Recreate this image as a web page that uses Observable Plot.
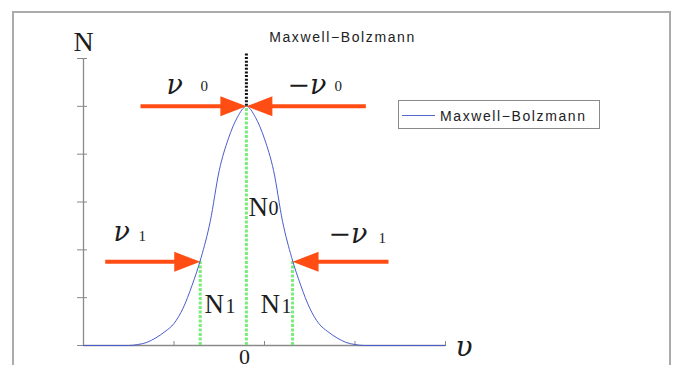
<!DOCTYPE html>
<html>
<head>
<meta charset="utf-8">
<script src="https://cdn.jsdelivr.net/npm/d3@7"></script>
<script src="https://cdn.jsdelivr.net/npm/@observablehq/plot@0.6"></script>
<style>
  html, body { margin: 0; padding: 0; background: #fff; }
  #wrap { position: relative; width: 673px; height: 365px; overflow: hidden; }
  #chart { position: absolute; left: 0; top: 0; }
  #border { position: absolute; left: 12px; top: 11px; width: 659px; height: 420px;
            border: 2px solid #ababab; box-sizing: border-box; pointer-events: none; }
  #legend { position: absolute; left: 398px; top: 100px; }
</style>
</head>
<body>
<div id="wrap">
  <div id="chart"></div>
  <div id="border"></div>
  <svg id="legend" width="202" height="29">
    <rect x="0.5" y="0.5" width="201" height="28" fill="#fff" stroke="#8a8a8a"></rect>
    <line x1="4" x2="37" y1="15.5" y2="15.5" stroke="#5566cc" stroke-width="1"></line>
    <text x="42" y="21" font-family="'Liberation Sans', Arial, sans-serif" font-size="14"
          letter-spacing="1.6" fill="#222">Maxwell−Bolzmann</text>
  </svg>
</div>
<script>
// Maxwell–Boltzmann distribution: particle count N against velocity
const velocity = [-180, -130, -120, -110, -100, -90, -80, -70, -60, -50, -40, -30, -20, -10, 0,
                  10, 20, 30, 40, 50, 60, 70, 80, 90, 100, 110, 120, 130, 220];
const count = [0, 0, 0.02, 0.065, 0.16, 0.29, 0.46, 0.78, 1.26, 1.84, 2.59, 3.66, 4.32, 4.77, 5,
               4.77, 4.32, 3.66, 2.59, 1.84, 1.26, 0.78, 0.46, 0.29, 0.16, 0.065, 0.02, 0, 0];
const xTicks = [-180, -80, 20, 120, 220];
const yTicks = [0, 1, 2, 3, 4, 5, 6];

// marked velocities and their counts
const v0 = 0, v1 = 51;
const N0 = 5, N1 = 1.75;

// annotation arrows: tail velocity, target velocity, count level
const arrowFrom = [-117, 132, -156, 157];
const arrowTo = [v0, v0, -v1, v1];
const arrowAt = [N0, N0, N1, N1];

const title = "Maxwell−Bolzmann";

const margin = {left: 83, right: 228, top: 58, bottom: 20};
const red = "#ff4d14";
const green = "#78ee78";
const blue = "#4a5ccc";
const ink = "#1c1c1c";

const curve = velocity.map((v, i) => ({v, n: count[i]}));
const arrows = arrowFrom.map((from, i) => ({
  from, to: arrowTo[i], at: arrowAt[i], dir: Math.sign(arrowTo[i] - from)
}));
const drops = [{x: -v1, h: N1}, {x: v0, h: N0}, {x: v1, h: N1}];

const serif = "'Liberation Serif', 'DejaVu Serif', serif";
const greek = "'DejaVu Serif', serif";
const sans = "'Liberation Sans', Arial, sans-serif";

// free-standing text placed at a pixel position (baseline y)
function label(s, X, Y, style = {}) {
  return Plot.text([s], {
    text: d => d, frameAnchor: "top-left",
    dx: X - margin.left, dy: Y - margin.top,
    lineAnchor: "bottom", textAnchor: "start",
    fill: ink, fontFamily: serif, ...style
  });
}
const nu = {fontFamily: greek, fontStyle: "italic", fontSize: 27};
const sub = {fontFamily: serif, fontSize: 15};
const bigN = {fontFamily: serif, fontSize: 27};
const subN = {fontFamily: serif, fontSize: 20};

const chart = Plot.plot({
  width: 673, height: 365,
  marginLeft: margin.left, marginRight: margin.right,
  marginTop: margin.top, marginBottom: margin.bottom,
  x: {domain: [-180, 220]},
  y: {domain: [0, 6]},
  style: {background: "transparent", overflow: "visible"},
  marks: [
    // axes
    Plot.ruleX([-180], {stroke: "#8a8a8a", strokeWidth: 1.3}),
    Plot.ruleY([0], {stroke: "#8a8a8a", strokeWidth: 1.3}),
    Plot.axisY(yTicks, {tickSize: 6, tickFormat: () => "", label: null, stroke: "#888"}),
    Plot.axisY(yTicks, {tickSize: 4, dx: 4, tickFormat: () => "", label: null, stroke: "#888"}),
    Plot.axisX(xTicks, {tickSize: 4, dy: -4, tickFormat: () => "", label: null, stroke: "#888"}),

    // drop lines at v0 and ±v1
    Plot.ruleX(drops, {x: "x", y1: 0, y2: "h", stroke: green, strokeWidth: 3, strokeDasharray: "3,1.5"}),
    Plot.ruleX([v0], {y1: N0, y2: 6.12, stroke: "#111", strokeWidth: 3, strokeDasharray: "2,1.6"}),

    // distribution curve
    Plot.line(curve, {x: "v", y: "n", stroke: blue, strokeWidth: 1, curve: "monotone-x"}),

    // arrows
    Plot.link(arrows, {x1: "from", x2: d => d.to - d.dir * 10, y1: "at", y2: "at",
                       stroke: red, strokeWidth: 4}),
    Plot.vector(arrows, {x: "to", y: "at", rotate: d => d.dir > 0 ? 90 : -90,
                         length: 26, r: 10, shape: "spike", anchor: "end",
                         fill: red, stroke: "none"}),

    // texts
    label("N", 83, 50, {textAnchor: "middle", fontSize: 28}),
    label(title, 342, 41, {textAnchor: "middle", fontFamily: sans, fontSize: 14, fill: "#222"}),
    label("ν", 166, 93, nu), label("0", 200, 90, sub),
    label("−ν", 287, 93, nu), label("0", 334, 90, sub),
    label("ν", 113, 240, nu), label("1", 138, 240, sub),
    label("−ν", 328, 242, nu), label("1", 378, 242, sub),
    label("N", 248, 215, bigN), label("0", 268, 214, subN),
    label("N", 204, 312, bigN), label("1", 225, 312, subN),
    label("N", 260, 312, bigN), label("1", 281, 312, subN),
    label("0", 244, 363, {textAnchor: "middle", fontSize: 22}),
    label("υ", 455, 355, {fontFamily: greek, fontStyle: "italic", fontSize: 28})
  ]
});
// widen the heading's letter spacing
d3.select(chart).selectAll("text")
  .filter(function() { return this.textContent === title; })
  .attr("letter-spacing", 1.6);
document.getElementById("chart").append(chart);
</script>
</body>
</html>
